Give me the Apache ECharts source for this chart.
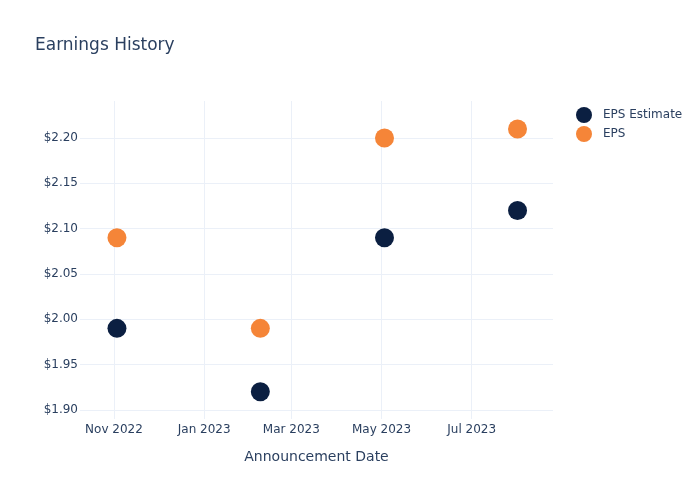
<!DOCTYPE html>
<html>
<head>
<meta charset="utf-8">
<script src="https://cdn.jsdelivr.net/npm/echarts@6/dist/echarts.min.js"></script>
<style>html,body{margin:0;padding:0;background:#fff}#c{width:700px;height:500px}</style>
</head>
<body>
<div id="c"></div>
<script>
const dates = ['2022-11-03', '2023-02-08', '2023-05-03', '2023-08-01'];
const epsEstimate = [1.99, 1.92, 2.09, 2.12];
const eps = [2.09, 1.99, 2.20, 2.21];
const yTicks = [1.90, 1.95, 2.00, 2.05, 2.10, 2.15, 2.20];
const xTicks = ['2022-11-01', '2023-01-01', '2023-03-01', '2023-05-01', '2023-07-01'];
const xRange = ['2022-10-09', '2023-08-25'];
const monthNames = ['Jan','Feb','Mar','Apr','May','Jun','Jul','Aug','Sep','Oct','Nov','Dec'];

const W = 700, H = 500;
const G = {left: 80, right: 147, top: 101, bottom: 81};
const gridW = W - G.left - G.right, gridH = H - G.top - G.bottom;
const font = 'DejaVu Sans, sans-serif';
const txt = '#2a3f5f';
const gridColor = '#ebf0f8';
const ts = s => new Date(s + 'T00:00:00').getTime();
const toPairs = vals => dates.map((d, i) => [ts(d), vals[i]]);
const xTickTs = xTicks.map(ts);

const chart = echarts.init(document.getElementById('c'), null, {renderer: 'canvas'});
chart.setOption({
  animation: false,
  backgroundColor: '#fff',
  title: {
    text: 'Earnings History', left: 30, top: 32,
    textStyle: {color: txt, fontSize: 17, fontWeight: 'normal', fontFamily: font}
  },
  legend: {
    orient: 'vertical', left: 571, top: 102, itemGap: 3,
    itemWidth: 28, itemHeight: 16, icon: 'circle',
    textStyle: {color: txt, fontSize: 12, fontFamily: font},
    data: ['EPS Estimate', 'EPS']
  },
  grid: Object.assign({containLabel: false}, G),
  xAxis: {
    type: 'value',
    min: ts(xRange[0]), max: ts(xRange[1]),
    name: 'Announcement Date', nameLocation: 'middle', nameGap: 31,
    nameTextStyle: {color: txt, fontSize: 14, fontFamily: font},
    axisLine: {show: false}, minorTick: {show: false},
    splitLine: {show: false},
    axisTick: {show: true, inside: true, length: gridH, customValues: xTickTs, lineStyle: {color: gridColor, width: 1}},
    axisLabel: {
      color: txt, fontSize: 12, margin: 5, fontFamily: font,
      customValues: xTickTs,
      formatter: v => { const d = new Date(v); return monthNames[d.getMonth()] + ' ' + d.getFullYear(); }
    }
  },
  yAxis: {
    type: 'value', min: 1.89, max: 2.2408,
    axisLine: {show: false},
    splitLine: {show: false},
    axisTick: {show: true, inside: true, length: gridW, customValues: yTicks, lineStyle: {color: gridColor, width: 1}},
    axisLabel: {
      color: txt, fontSize: 12, margin: 2, fontFamily: font,
      customValues: yTicks,
      formatter: v => '$' + v.toFixed(2)
    }
  },
  series: [
    {name: 'EPS Estimate', type: 'scatter', symbolSize: 19, data: toPairs(epsEstimate), itemStyle: {color: '#0b1f41', opacity: 1}},
    {name: 'EPS', type: 'scatter', symbolSize: 19, data: toPairs(eps), itemStyle: {color: '#f58538', opacity: 1}}
  ]
});
</script>
</body>
</html>
